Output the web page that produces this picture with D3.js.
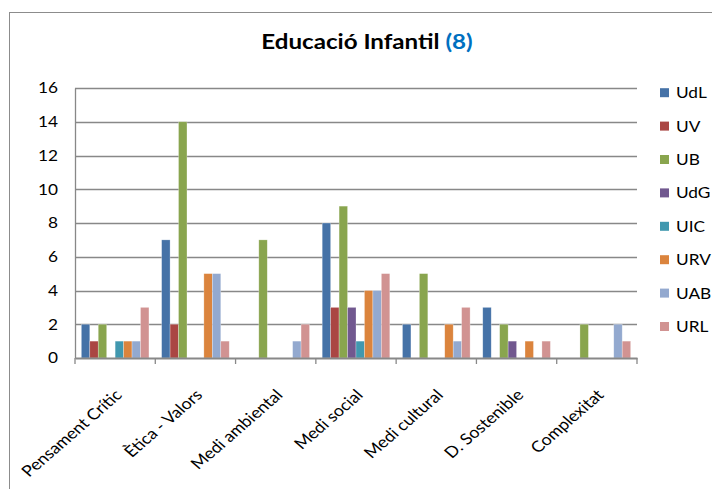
<!DOCTYPE html>
<html>
<head>
<meta charset="utf-8">
<script src="https://cdn.jsdelivr.net/npm/d3@7"></script>
<style>
  html, body { margin: 0; padding: 0; background: #fff; }
  svg { display: block; }
  text { font-family: Lato, "Open Sans", sans-serif; }
</style>
</head>
<body>
<svg id="chart" width="712" height="489"></svg>
<script>
// ---- data ----
const categories = ["Pensament Crític", "Ètica - Valors", "Medi ambiental", "Medi social", "Medi cultural", "D. Sostenible", "Complexitat"];
const series = ["UdL", "UV", "UB", "UdG", "UIC", "URV", "UAB", "URL"];
const UdL = [2, 7, 0, 8, 2, 3, 0];
const UV  = [1, 2, 0, 3, 0, 0, 0];
const UB  = [2, 14, 7, 9, 5, 2, 2];
const UdG = [0, 0, 0, 3, 0, 1, 0];
const UIC = [1, 0, 0, 1, 0, 0, 0];
const URV = [1, 5, 0, 4, 2, 1, 0];
const UAB = [1, 5, 1, 4, 1, 0, 2];
const URL = [3, 1, 2, 5, 3, 1, 1];
const yTicks = [0, 2, 4, 6, 8, 10, 12, 14, 16];
const titleMain = "Educació Infantil ";
const titleCount = "(8)";

const values = { UdL, UV, UB, UdG, UIC, URV, UAB, URL };
const colors = ["#4572A7", "#AA4643", "#89A54E", "#71588F", "#4198AF", "#DB843D", "#93A9CF", "#D19392"];
const SX = 1.15; // horizontal stretch of the original picture

const svg = d3.select("#chart");

// outer chart border
svg.append("rect")
  .attr("x", 9.5).attr("y", 12.5)
  .attr("width", 800).attr("height", 600)
  .attr("fill", "none").attr("stroke", "#8c8c8c").attr("stroke-width", 1);

const plot = { left: 75, right: 637, top: 88, bottom: 358 };

const y = d3.scaleLinear().domain([0, 16]).range([plot.bottom, plot.top]);
const x0 = d3.scaleBand().domain(categories).range([plot.left, plot.right]).paddingInner(0).paddingOuter(0);
const x1 = d3.scaleBand().domain(series).range([0, x0.bandwidth()]).paddingInner(0).paddingOuter(0.75);
const color = d3.scaleOrdinal().domain(series).range(colors);

// gridlines
svg.append("g")
  .selectAll("line")
  .data(yTicks.filter(d => d > 0))
  .join("line")
  .attr("x1", plot.left).attr("x2", plot.right)
  .attr("y1", d => Math.round(y(d)) + 0.5).attr("y2", d => Math.round(y(d)) + 0.5)
  .attr("stroke", "#888888").attr("stroke-width", 1.3);

// y axis
const yAxis = svg.append("g")
  .attr("transform", `translate(${plot.left},0)`)
  .call(d3.axisLeft(y).tickValues(yTicks).tickSize(0).tickFormat(""));
yAxis.select(".domain").attr("stroke", "#888888").attr("stroke-width", 1.3);
svg.append("g")
  .selectAll("text")
  .data(yTicks)
  .join("text")
  .attr("transform", d => `translate(58,${y(d)}) scale(${SX},1)`)
  .attr("text-anchor", "end")
  .attr("dy", "0.36em")
  .attr("font-size", 15).attr("fill", "#000")
  .text(d => d);

// bars
svg.append("g")
  .selectAll("g")
  .data(categories.map((c, i) => ({ c, i })))
  .join("g")
  .attr("transform", d => `translate(${x0(d.c)},0)`)
  .selectAll("rect")
  .data(d => series.map(s => ({ s, v: values[s][d.i] })))
  .join("rect")
  .attr("x", d => x1(d.s))
  .attr("width", x1.bandwidth())
  .attr("y", d => y(d.v))
  .attr("height", d => y(0) - y(d.v))
  .attr("fill", d => color(d.s))
  .attr("stroke", "#ffffff").attr("stroke-opacity", 0.45).attr("stroke-width", 0.6);

// x axis
const xAxis = svg.append("g")
  .attr("transform", `translate(0,${plot.bottom})`)
  .call(d3.axisBottom(x0).tickSize(0).tickFormat(""));
xAxis.select(".domain").attr("stroke", "#888888").attr("stroke-width", 2);
// boundary tick marks
svg.append("g")
  .selectAll("line")
  .data(d3.range(categories.length + 1))
  .join("line")
  .attr("x1", i => plot.left + i * x0.step()).attr("x2", i => plot.left + i * x0.step())
  .attr("y1", plot.bottom).attr("y2", plot.bottom + 6)
  .attr("stroke", "#888888").attr("stroke-width", 1.3);

// rotated category labels
svg.append("g")
  .selectAll("text")
  .data(categories)
  .join("text")
  .attr("transform", d => `translate(${x0(d) + x0.bandwidth() / 2 + 8},${plot.bottom + 38}) scale(${SX},1) rotate(-45)`)
  .attr("text-anchor", "end")
  .attr("font-size", 15.5)
  .attr("fill", "#000")
  .text(d => d);

// title
const title = svg.append("text")
  .attr("transform", `translate(367,49) scale(${SX},1)`)
  .attr("text-anchor", "middle")
  .attr("font-size", 21).attr("font-weight", "bold");
title.append("tspan").attr("fill", "#000").text(titleMain);
title.append("tspan").attr("fill", "#0070C0").text(titleCount);

// legend
const legend = svg.append("g")
  .selectAll("g")
  .data(series)
  .join("g")
  .attr("transform", (d, i) => `translate(660,${92.7 + i * 33.4})`);
legend.append("rect")
  .attr("x", 0).attr("y", -4.5).attr("width", 9).attr("height", 9)
  .attr("fill", d => color(d));
legend.append("text")
  .attr("transform", `translate(16,0) scale(${SX},1)`)
  .attr("dy", "0.36em")
  .attr("font-size", 15).attr("fill", "#000")
  .text(d => d);
</script>
</body>
</html>
